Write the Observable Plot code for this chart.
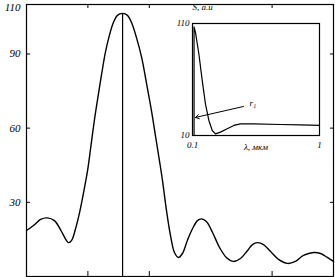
<!DOCTYPE html>
<html><head><meta charset="utf-8">
<script src="https://cdn.jsdelivr.net/npm/d3@7"></script>
<script src="https://cdn.jsdelivr.net/npm/@observablehq/plot@0.6"></script>
<style>
body{margin:0;background:#fff;}
#wrap{position:relative;width:335px;height:277px;}
#inset{position:absolute;left:172px;top:0px;}
svg{font-family:"Liberation Serif",serif;font-style:italic;}
</style></head><body><div id="wrap"><div id="main"></div><div id="inset"></div></div>
<script>
// main curve
const mainX = [0,0.23,0.46,0.68,0.91,1.14,1.30,1.37,1.47,1.60,1.73,1.86,1.99,2.08,2.21,2.31,2.44,2.57,2.70,2.83,2.96,3.13,3.29,3.42,3.58,3.75,3.91,4.07,4.20,4.33,4.43,4.56,4.69,4.82,4.95,5.08,5.24,5.41,5.57,5.70,5.86,6.06,6.29,6.51,6.74,6.97,7.20,7.36,7.52,7.72,7.95,8.21,8.50,8.76,9.02,9.35,9.58,9.80,10.0];
const mainY = [18.6,20.6,23.1,23.7,22.6,18.2,14.6,13.7,14.6,19.4,25.9,34.0,42.9,51.0,63.1,71.2,81.3,90.6,97.5,102.7,105.6,106.4,105.6,102.7,96.7,88.6,78.1,67.1,57.0,46.9,38.8,26.7,16.6,9.7,7.7,9.3,14.6,19.4,22.6,23.3,22.2,17.8,11.7,7.7,6.1,7.3,10.5,12.9,13.7,12.9,10.1,6.9,5.3,6.1,8.5,9.7,9.3,7.7,6.1];
const peakX = [3.13];
const peakY = [106.4];
const yTicks = [30, 60, 90];
const yTopTick = [110];
const xTicks = [2, 4, 8];
// inset curve
const insetL = [0.111,0.111,0.121,0.145,0.169,0.192,0.216,0.240,0.263,0.298,0.346,0.393,0.440,0.532,0.724,0.865,1.0];
const insetS = [10,107,102,83,59,38,23.4,14.5,11.5,13,16,19,20.4,20.4,19.8,19.5,19];
const insetYTicks = [10, 110];
const insetXTicks = [0.1, 1];
const insetXLabels = ["0.1", "1"];
const insetXTitle = "λ, мкм";
const insetYTitle = "S, a.u";
const arrowFrom = [0.461, 35.9];
const arrowTo = [0.121, 26.1];
const arrowLabel = "r₁";

const mainData = mainX.map((x, i) => ({x, y: mainY[i]}));
const peak = peakX.map((x, i) => ({x, y: peakY[i]}));

const main = Plot.plot({
  width: 335, height: 277,
  marginLeft: 26, marginRight: 2, marginTop: 4, marginBottom: 1,
  style: {background: "transparent", fontFamily: "Liberation Serif", fontStyle: "italic", fontSize: "11px"},
  x: {domain: [0, 10]},
  y: {domain: [0, 110]},
  marks: [
    Plot.frame({stroke: "black", strokeWidth: 1.2}),
    Plot.axisY({ticks: yTicks, tickSize: 0, tickPadding: 6, label: null, tickFormat: d => d, fill: "black"}),
    Plot.axisY({ticks: yTopTick, tickSize: 0, tickPadding: 6, label: null, tickFormat: d => d, fill: "black", dy: 3}),
    Plot.axisY({ticks: yTicks, tickSize: -4, text: null, label: null}),
    Plot.axisY({anchor: "right", ticks: yTicks, tickSize: -4, text: null, label: null}),
    Plot.axisX({anchor: "bottom", ticks: xTicks, tickSize: -5, text: null, label: null}),
    Plot.axisX({anchor: "top", ticks: xTicks, tickSize: -3, text: null, label: null}),
    Plot.ruleX(peak, {x: "x", y1: 0, y2: "y", stroke: "black", strokeWidth: 1.2}),
    Plot.line(mainData, {x: "x", y: "y", curve: "catmull-rom", stroke: "black", strokeWidth: 1.4})
  ]
});
document.getElementById("main").append(main);

const insetData = insetL.map((x, i) => ({x, y: insetS[i]}));
const inset = Plot.plot({
  width: 160, height: 160,
  marginLeft: 20, marginRight: 13, marginTop: 23, marginBottom: 25,
  style: {background: "transparent", fontFamily: "Liberation Serif", fontStyle: "italic", fontSize: "9px"},
  x: {domain: [0.1, 1]},
  y: {domain: [10, 110]},
  marks: [
    Plot.frame({stroke: "black", strokeWidth: 1.2}),
    Plot.axisY({ticks: insetYTicks, tickSize: 0, tickPadding: 3, label: insetYTitle, labelAnchor: "top", labelArrow: "none", labelOffset: 0, fill: "black"}),
    Plot.axisX({ticks: insetXTicks, tickSize: 0, tickPadding: 6, tickFormat: (d, i) => insetXLabels[i], label: null, fill: "black"}),
    Plot.text([insetXTitle], {frameAnchor: "bottom", dy: 14, fill: "black"}),
    Plot.line(insetData, {x: "x", y: "y", curve: "linear", stroke: "black", strokeWidth: 1.2}),
    Plot.arrow([{x1: arrowFrom[0], y1: arrowFrom[1], x2: arrowTo[0], y2: arrowTo[1]}], {x1: "x1", y1: "y1", x2: "x2", y2: "y2", stroke: "black", strokeWidth: 1, headLength: 6}),
    Plot.text([{x: arrowFrom[0], y: arrowFrom[1], t: arrowLabel}], {x: "x", y: "y", text: "t", dx: 6, dy: -3, textAnchor: "start", fill: "black"})
  ]
});
document.getElementById("inset").append(inset);
</script></body></html>
